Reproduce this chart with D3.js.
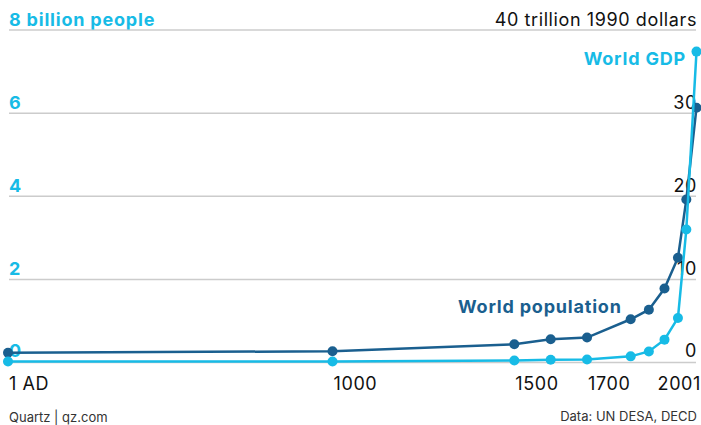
<!DOCTYPE html>
<html>
<head>
<meta charset="utf-8">
<script src="https://cdn.jsdelivr.net/npm/d3@7"></script>
<style>
  body { margin: 0; background: #fff; }
  svg { display: block; font-family: Inter, "Noto Sans", sans-serif; }
</style>
</head>
<body>
<div id="chart"></div>
<script>
// Maddison-style historical series
const years = [1, 1000, 1500, 1600, 1700, 1820, 1870, 1913, 1950, 1973, 2001];
const population = [0.235, 0.27, 0.44, 0.56, 0.6, 1.04, 1.27, 1.78, 2.52, 3.92, 6.13]; // billions
const gdp = [0.11, 0.12, 0.25, 0.33, 0.37, 0.74, 1.33, 2.75, 5.36, 16.0, 37.4]; // trillion 1990 $

const popTicks = [0, 2, 4, 6, 8];
const popTickLabels = ['0', '2', '4', '6', '8 billion people'];
const gdpTicks = [0, 10, 20, 30, 40];
const gdpTickLabels = ['0', '10', '20', '30', '40 trillion 1990 dollars'];
const xTicks = [1, 1000, 1500, 1700, 2001];
const xTickLabels = ['1 AD', '1000', '1500', '1700', '2001'];

const width = 701, height = 425;
const lightBlue = '#17bbe6', darkBlue = '#1a5f8f';

const x = d3.scaleLinear().domain([1, 1000, 2001]).range([8, 332.5, 696.5]);
const yPop = d3.scaleLinear().domain([0, 8]).range([362.5, 30]);
const yGdp = d3.scaleLinear().domain([0, 40]).range([362.5, 30]);

const svg = d3.select('#chart').append('svg')
  .attr('width', width)
  .attr('height', height);

// gridlines
svg.append('g').selectAll('line')
  .data(popTicks)
  .enter().append('line')
  .attr('x1', 9).attr('x2', 696)
  .attr('y1', d => yPop(d)).attr('y2', d => yPop(d))
  .attr('stroke', '#cccccc')
  .attr('stroke-width', 1.5);

// left axis labels
svg.append('g').selectAll('text')
  .data(popTicks)
  .enter().append('text')
  .attr('x', 9)
  .attr('y', d => yPop(d) - (d == 0 ? 5.5 : 4))
  .attr('fill', lightBlue)
  .attr('font-weight', 700)
  .attr('font-size', 18)
  .attr('letter-spacing', 0.8)
  .text((d, i) => popTickLabels[i]);

// right axis labels
svg.append('g').selectAll('text')
  .data(gdpTicks)
  .enter().append('text')
  .attr('x', 697)
  .attr('y', d => yGdp(d) - (d == 0 ? 5.5 : 4))
  .attr('text-anchor', 'end')
  .attr('fill', '#111')
  .attr('font-size', 18)
  .attr('letter-spacing', 0.6)
  .text((d, i) => gdpTickLabels[i]);

// x labels
svg.append('g').selectAll('text')
  .data(xTicks)
  .enter().append('text')
  .attr('x', (d, i) => i == xTicks.length - 1 ? 701 : x(d) + 1)
  .attr('y', 390)
  .attr('text-anchor', (d, i) => i == xTicks.length - 1 ? 'end' : 'start')
  .attr('fill', '#111')
  .attr('font-size', 18)
  .attr('letter-spacing', 0.6)
  .text((d, i) => xTickLabels[i]);

function drawSeries(values, y, color) {
  const pts = years.map((yr, i) => [x(yr), y(values[i])]);
  svg.append('path')
    .attr('d', d3.line()(pts))
    .attr('fill', 'none')
    .attr('stroke', color)
    .attr('stroke-width', 2.5);
  svg.append('g').selectAll('circle')
    .data(pts)
    .enter().append('circle')
    .attr('cx', d => d[0])
    .attr('cy', d => d[1])
    .attr('r', 5)
    .attr('fill', color);
}

drawSeries(population, yPop, darkBlue);
drawSeries(gdp, yGdp, lightBlue);

// series labels
svg.append('text')
  .attr('x', 686).attr('y', 65)
  .attr('text-anchor', 'end')
  .attr('fill', lightBlue)
  .attr('font-weight', 700)
  .attr('font-size', 18)
  .attr('letter-spacing', 0.8)
  .text('World GDP');

svg.append('text')
  .attr('x', 458).attr('y', 313)
  .attr('fill', darkBlue)
  .attr('font-weight', 700)
  .attr('font-size', 18)
  .attr('letter-spacing', 0.8)
  .text('World population');

// footer
svg.append('text')
  .attr('x', 9).attr('y', 422)
  .attr('fill', '#333')
  .attr('font-size', 13)
  .text('Quartz | qz.com');

svg.append('text')
  .attr('x', 697).attr('y', 421)
  .attr('text-anchor', 'end')
  .attr('fill', '#333')
  .attr('font-size', 13)
  .text('Data: UN DESA, DECD');
</script>
</body>
</html>
